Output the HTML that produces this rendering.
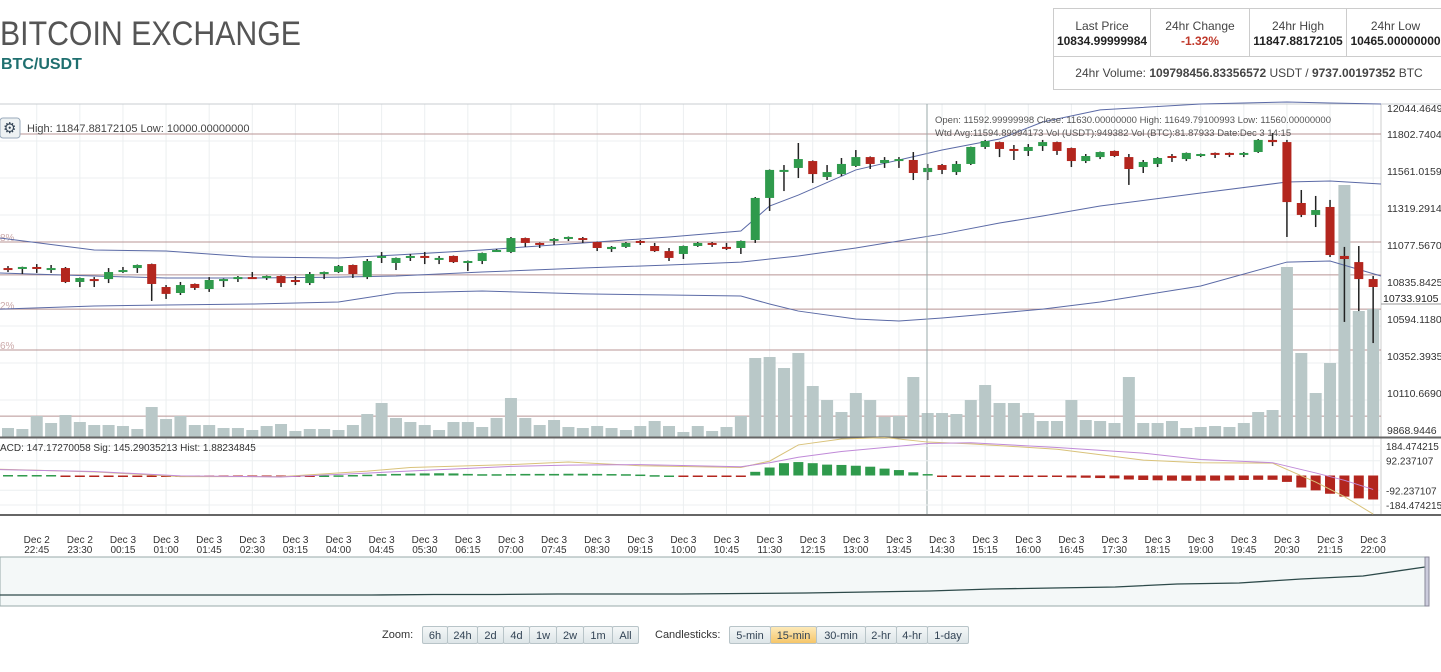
<!DOCTYPE html>
<html><head><meta charset="utf-8">
<style>
body{margin:0;width:1441px;height:672px;overflow:hidden;background:#fff;font-family:"Liberation Sans",sans-serif;position:relative}
.t{position:absolute;left:0;top:15px;font-size:34px;color:#555;transform:scaleX(0.89);transform-origin:0 0;white-space:nowrap}
.p{position:absolute;left:1px;top:56px;font-size:16px;font-weight:bold;color:#1f6f6f}
.stats{position:absolute;left:1053px;top:8px;width:390px;height:82px;border:1px solid #ccc;border-right:none;box-sizing:border-box;font-size:12px;color:#444}
.cell{position:absolute;top:0;height:47px;border-right:1px solid #ccc;text-align:center;box-sizing:border-box;padding-top:10px;line-height:15px}
.cell b{color:#222}
.vol{position:absolute;top:47px;left:0;width:390px;height:34px;border-top:1px solid #ccc;text-align:center;line-height:33px}
.btns{position:absolute;top:626px;font-size:11px;color:#333}
.bt{position:absolute;top:0;height:18px;border:1px solid #b8c4c8;background:linear-gradient(#f4f7f8,#dde5e8);text-align:center;line-height:18px;box-sizing:border-box;color:#345;border-radius:2px}
.on{background:linear-gradient(#fde9b8,#f6c66a)}
</style></head><body>
<div class="t">BITCOIN EXCHANGE</div>
<div class="p">BTC/USDT</div>
<div class="stats">
<div class="cell" style="left:0;width:97px">Last Price<br><b>10834.99999984</b></div>
<div class="cell" style="left:97px;width:99px">24hr Change<br><b style="color:#c0392b">-1.32%</b></div>
<div class="cell" style="left:196px;width:97px">24hr High<br><b>11847.88172105</b></div>
<div class="cell" style="left:293px;width:97px;border-right:none">24hr Low<br><b>10465.00000000</b></div>
<div class="vol">24hr Volume: <b>109798456.83356572</b> USDT / <b>9737.00197352</b> BTC</div>
</div>
<svg id="ch" width="1441" height="672" style="position:absolute;left:0;top:0"></svg>
<div class="btns" style="left:382px">
<span style="position:absolute;left:0;top:3px">Zoom:</span>
<div class="bt" style="left:40px;width:26px">6h</div>
<div class="bt" style="left:65px;width:31px">24h</div>
<div class="bt" style="left:95px;width:27px">2d</div>
<div class="bt" style="left:121px;width:27px">4d</div>
<div class="bt" style="left:147px;width:28px">1w</div>
<div class="bt" style="left:174px;width:28px">2w</div>
<div class="bt" style="left:201px;width:30px">1m</div>
<div class="bt" style="left:230px;width:27px">All</div>
<span style="position:absolute;left:273px;top:3px;white-space:nowrap">Candlesticks:</span>
<div class="bt" style="left:347px;width:42px">5-min</div>
<div class="bt on" style="left:388px;width:47px">15-min</div>
<div class="bt" style="left:434px;width:50px">30-min</div>
<div class="bt" style="left:483px;width:32px">2-hr</div>
<div class="bt" style="left:514px;width:32px">4-hr</div>
<div class="bt" style="left:545px;width:42px">1-day</div>
</div>
<script>
const opens=[10927,10927,10934,10914,10927,10836,10855,10855,10908,10927,10953,10803,10764,10823,10790,10842,10855,10868,10868,10875,10849,10829,10888,10901,10947,10868,10993,10960,10993,11006,10986,11006,10966,10973,11038,11032,11123,11091,11104,11117,11123,11097,11051,11065,11104,11071,11038,11019,11071,11091,11065,11058,11110,11385,11561,11581,11626,11522,11541,11594,11652,11613,11626,11633,11554,11600,11554,11607,11718,11750,11705,11692,11724,11750,11711,11626,11652,11692,11652,11587,11607,11659,11639,11666,11679,11679,11672,11685,11764,11750,11352,11274,11326,11006,10966,10855];
const closes=[10914,10934,10921,10927,10836,10862,10849,10901,10914,10947,10823,10758,10816,10797,10849,10855,10868,10862,10875,10829,10842,10888,10901,10940,10888,10973,11006,10993,11006,10993,10993,10966,10973,11025,11045,11123,11091,11084,11117,11130,11110,11058,11065,11091,11097,11038,10993,11071,11091,11084,11058,11104,11385,11568,11568,11639,11541,11554,11607,11652,11607,11633,11639,11548,11581,11568,11607,11718,11757,11705,11692,11718,11750,11692,11626,11659,11685,11659,11574,11620,11646,11646,11679,11672,11666,11672,11679,11764,11750,11358,11274,11306,11012,10986,10855,10803];
const highs=[10940,10936,10953,10947,10934,10865,10868,10927,10934,10950,10956,10816,10836,10826,10868,10858,10875,10901,10878,10878,10875,10901,10904,10947,10950,10986,11032,10996,11019,11032,11006,11009,10976,11028,11051,11130,11126,11094,11123,11133,11130,11100,11071,11097,11110,11091,11058,11074,11097,11097,11091,11107,11391,11571,11600,11744,11630,11600,11646,11698,11656,11652,11652,11685,11607,11607,11626,11720,11764,11753,11731,11737,11764,11753,11714,11672,11688,11695,11672,11633,11652,11672,11682,11675,11682,11682,11685,11770,11809,11764,11437,11398,11372,11065,11071,10875];
const lows=[10901,10888,10895,10895,10829,10803,10803,10829,10895,10895,10712,10725,10751,10784,10771,10803,10836,10860,10849,10803,10816,10816,10855,10895,10862,10855,10960,10914,10973,10953,10953,10960,10908,10953,11032,11025,11065,11058,11078,11104,11091,11038,11032,11058,11078,11032,10973,10986,11065,11065,11045,11019,11091,11300,11430,11515,11483,11502,11528,11587,11574,11581,11581,11502,11502,11541,11535,11600,11705,11652,11633,11659,11692,11666,11587,11613,11639,11652,11470,11548,11587,11620,11626,11652,11646,11652,11652,11679,11724,11130,11260,11195,10999,10575,10646,10437];
const volBTC=[36,32,84,56,88,60,48,48,44,32,120,72,84,48,48,36,36,28,44,52,24,32,32,28,48,92,136,76,60,48,28,60,60,40,76,156,76,48,68,40,36,44,36,28,44,64,44,20,44,24,40,84,316,320,276,336,204,148,100,176,148,80,84,240,96,96,92,148,208,136,136,96,64,64,148,68,64,56,240,56,56,64,36,40,44,40,56,100,108,680,336,176,296,1008,504,512];
const bbIdx=[0,6,11,17,23,27,33,40,46,51,53,55,59,62,65,69,72,76,83,89,92,95];
const bbUpper=[11123,11045,11038,10999,10993,11012,11045,11091,11130,11169,11332,11404,11568,11633,11698,11770,11881,11960,11999,12012,12005,11999];
const bbMid=[10895,10875,10862,10862,10868,10875,10901,10927,10947,10966,10986,11006,11058,11104,11149,11221,11267,11332,11417,11489,11496,11476];
const bbLower=[10659,10679,10686,10692,10705,10764,10777,10758,10751,10744,10692,10646,10594,10581,10601,10633,10659,10705,10810,10966,10973,10875];
const hist=[3,3,3,3,-5,-5,-6,-6,-5,-5,-8,-9,-9,-8,-7,-6,-5,-5,-4,-3,-2,-1,0,1,3,5,8,10,12,13,14,13,10,8,8,9,10,10,10,11,11,10,9,8,6,2,0,-2,-6,-7,-7,-6,23,50,77,84,77,68,66,61,55,43,34,20,9,-3,-4,-4,-3,-3,-4,-5,-6,-8,-12,-14,-16,-18,-25,-28,-30,-32,-33,-33,-32,-30,-28,-27,-27,-40,-75,-93,-114,-132,-143,-150];
const macdIdx=[0,6,12,19,25,28,35,39,44,51,53,55,58,61,64,67,73,79,83,88,91,93,95];
const macdLine=[39,23,-7,-7,27,50,68,84,61,50,90,191,228,237,209,198,164,96,80,77,-41,-132,-241];
const sigLine=[37,25,-2,-9,15,28,57,65,68,55,80,114,150,175,200,205,175,140,100,80,16,-30,-87];
const priceTicks=[12044.4649,11802.7404,11561.0159,11319.2914,11077.5670,10835.8425,10594.1180,10352.3935,10110.6690,9868.9446];
const macdTicks=[184.474215,92.2371075,-92.2371075,-184.474215];
const fibLevels=[11803,11097,10882,10659,10392,9960];
const timeLabels=["22:45","23:30","00:15","01:00","01:45","02:30","03:15","04:00","04:45","05:30","06:15","07:00","07:45","08:30","09:15","10:00","10:45","11:30","12:15","13:00","13:45","14:30","15:15","16:00","16:45","17:30","18:15","19:00","19:45","20:30","21:15","22:00"];
const dayLabels=["Dec 2","Dec 2"];
const navVals=[1500,1500,1500,1500,1500,1500,1500,1750,1750,2000,2000,2000,2250,2500,3000,3500,4500,5000,5500,7000,7500,9500,11000,15500];

const svg=document.getElementById('ch');
const NS='http://www.w3.org/2000/svg';
function mk(tag,at,parent){const e=document.createElementNS(NS,tag);for(const k in at)e.setAttribute(k,at[k]);(parent||svg).appendChild(e);return e;}
const xOf=i=>8+i*14.37;
const yOf=p=>171+(11561.0159-p)/6.533;
const vY=v=>437-v/4;
const mY=v=>475.5-v*0.16;
const navY=v=>596-(v-1000)/500;

mk('rect',{x:0,y:557,width:1428,height:49,fill:'#f4f8f8',stroke:'#9aa',"stroke-width":1});
for(let k=0;k<32;k++){const x=xOf(2+3*k);mk('line',{x1:x,x2:x,y1:104,y2:515,stroke:'#eceff0'});}
priceTicks.forEach(v=>{const y=yOf(v)+7;if(y>104&&y<437)mk('line',{x1:0,x2:1381,y1:y,y2:y,stroke:'#eceff0'});});
mk('line',{x1:0,x2:1441,y1:104,y2:104,stroke:'#c8ccd0'});
mk('line',{x1:1381,x2:1381,y1:104,y2:515,stroke:'#ccc'});
fibLevels.forEach(v=>{const l=mk('line',{x1:0,x2:1381,y1:yOf(v),y2:yOf(v),stroke:'#b89494'});});
[['8%',237],['2%',305],['6%',345]].forEach(a=>{const t=mk('text',{x:0,y:a[1]+4,"font-size":10,fill:'#caa'});t.textContent=a[0];});
volBTC.forEach((v,i)=>{const r=mk('rect',{x:xOf(i)-6,y:vY(v),width:12,height:v/4,fill:'#b9c8c8'});});
function poly(idx,vals,fy,fx,attrs,name){const pts=idx.map((i,k)=>fx(i)+','+fy(vals[k])).join(' ');const p=mk('polyline',Object.assign({points:pts,fill:'none'},attrs));return p;}
const bx=i=>i===0?0:(i===95?1381:xOf(i));
poly(bbIdx,bbUpper,yOf,bx,{stroke:'#5b6aa6'},'bollinger-upper');
poly(bbIdx,bbMid,yOf,bx,{stroke:'#5b6aa6'},'bollinger-middle');
poly(bbIdx,bbLower,yOf,bx,{stroke:'#5b6aa6'},'bollinger-lower');
opens.forEach((o,i)=>{const c=closes[i],x=xOf(i);const up=c>=o;
 const w=mk('line',{x1:x,x2:x,y1:yOf(highs[i]),y2:yOf(lows[i]),stroke:'#222',"stroke-width":1.5});
 
 const t=yOf(Math.max(o,c)),b=yOf(Math.min(o,c));
 const r=mk('rect',{x:x-4.5,y:t,width:9,height:Math.max(2,b-t),fill:up?'#2f9a4c':'#b3261e'});
 });
mk('line',{x1:927,x2:927,y1:104,y2:515,stroke:'#9aa'});
priceTicks.forEach(v=>{let y=yOf(v)+4;if(y<112)y=112;const t=mk('text',{x:1387,y:y,"font-size":10.5,fill:'#333'});t.textContent=v.toFixed(4);});
mk('line',{x1:1381,x2:1441,y1:304,y2:304,stroke:'#999'});
{const t=mk('text',{x:1383,y:302,"font-size":10.5,fill:'#222'});t.textContent='10733.9105';}
{const g=mk('rect',{x:0,y:118,width:20,height:20,rx:3,fill:'#eef2f3',stroke:'#9ab'});
 const gt=mk('text',{x:3,y:133,"font-size":15,fill:'#345'});gt.textContent='⚙';
 const t=mk('text',{x:27,y:132,"font-size":11,fill:'#444'});t.textContent='High: 11847.88172105  Low: 10000.00000000';t.setAttribute('xml:space','preserve');
 const a=mk('text',{x:935,y:123,"font-size":9.5,fill:'#555'});a.textContent='Open:       11592.99999998 Close:           11630.00000000 High:          11649.79100993 Low: 11560.00000000';a.setAttribute('xml:space','preserve');
 const b=mk('text',{x:935,y:136,"font-size":9.5,fill:'#555'});b.textContent='Wtd Avg:11594.89994173 Vol (USDT):949382                 Vol (BTC):81.87933                Date:Dec 3 14:15';b.setAttribute('xml:space','preserve');}
mk('line',{x1:0,x2:1441,y1:437.5,y2:437.5,stroke:'#666',"stroke-width":2});
mk('line',{x1:0,x2:1441,y1:515,y2:515,stroke:'#666',"stroke-width":2});
macdTicks.forEach(v=>{mk('line',{x1:0,x2:1381,y1:mY(v),y2:mY(v),stroke:'#eceff0'});const t=mk('text',{x:1386,y:Math.min(Math.max(mY(v)+4,445),512),"font-size":10,fill:'#333'});t.textContent=v.toFixed(6).slice(0,11);});
hist.forEach((h,i)=>{const y=h>=0?mY(h):mY(0);const r=mk('rect',{x:xOf(i)-5,y:y,width:10,height:Math.max(1.5,Math.abs(h)*0.16),fill:h>=0?'#2f9a4c':'#b3261e'});});
const mx=i=>i===0?0:xOf(i);
poly(macdIdx,macdLine,mY,mx,{stroke:'#d9c27a'},'macd-line');
poly(macdIdx,sigLine,mY,mx,{stroke:'#c08ad8'},'signal-line');
{const t=mk('text',{x:0,y:451,"font-size":10,fill:'#333'});t.textContent='ACD: 147.17270058   Sig: 145.29035213   Hist: 1.88234845';t.setAttribute('xml:space','preserve');}
timeLabels.forEach((l,k)=>{const x=xOf(2+3*k);const d=k<2?dayLabels[k]:'Dec 3';
 const a=mk('text',{x:x,y:543,"font-size":10,fill:'#333',"text-anchor":"middle"});a.textContent=d;
 const b=mk('text',{x:x,y:553,"font-size":10,fill:'#333',"text-anchor":"middle"});b.textContent=l;
 });
{const pts=navVals.map((v,k)=>(k*1425/(navVals.length-1))+','+navY(v)).join(' ');const p=mk('polyline',{points:pts,fill:'none',stroke:'#2d4a4a',"stroke-width":1.3});
 const h=mk('rect',{x:1425,y:557,width:4,height:49,fill:'#ccd',stroke:'#889'});}
</script>
</body></html>
